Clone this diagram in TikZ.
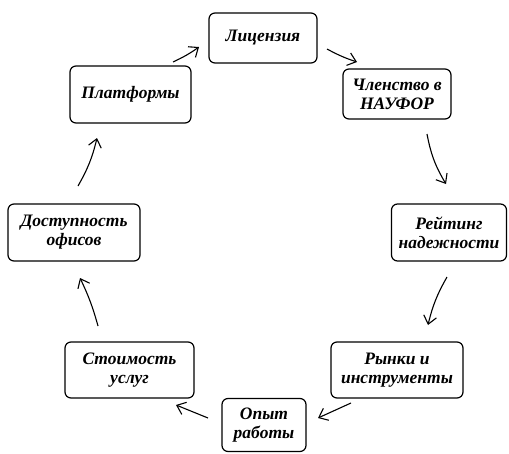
\documentclass[tikz,border=0pt]{standalone}
\usepackage{fontspec}
\setmainfont{Liberation Serif}
\usetikzlibrary{arrows.meta}
\tikzset{
  box/.style={draw, line width=1.2pt, rounded corners=6pt, align=center, inner sep=1pt,
    font=\fontsize{17.5}{19}\selectfont\bfseries\itshape},
  arr/.style={line width=1.1pt, -{Straight Barb[length=8pt,width=13pt,line width=1.1pt]}}
}
\begin{document}
\begin{tikzpicture}[x=1pt,y=-1pt]
\useasboundingbox (0,0) rectangle (509,453);
\node[box, minimum width=108pt, minimum height=50pt] (lic) at (263,38) {Лицензия};
\node[box, minimum width=108pt, minimum height=50pt] (chl) at (397,94) {Членство в\\НАУФОР};
\node[box, minimum width=115pt, minimum height=57pt] (rei) at (449,232.5) {Рейтинг\\надежности};
\node[box, minimum width=132pt, minimum height=56pt] (ryn) at (397,370) {Рынки и\\инструменты};
\node[box, minimum width=84pt, minimum height=53pt] (opy) at (264,425) {Опыт\\работы};
\node[box, minimum width=129pt, minimum height=56pt] (sto) at (129.5,370) {Стоимость\\услуг};
\node[box, minimum width=132pt, minimum height=57pt] (dos) at (74,232.5) {Доступность\\офисов};
\node[box, minimum width=121pt, minimum height=57pt] (pla) at (130.5,94.5) {Платформы};
\coordinate (a1s) at (173,62);  \coordinate (a1e) at (199,47);
\coordinate (a2s) at (327,49);  \coordinate (a2e) at (357,62);
\coordinate (a3s) at (427,134); \coordinate (a3e) at (446,184);
\coordinate (a4s) at (447,277); \coordinate (a4e) at (428,325);
\coordinate (a5s) at (351,403); \coordinate (a5e) at (318,418);
\coordinate (a6s) at (208,418); \coordinate (a6e) at (176,405);
\coordinate (a7s) at (98,326);  \coordinate (a7e) at (80,278);
\coordinate (a8s) at (78,186);  \coordinate (a8e) at (97,138);
\draw[arr] (a1s) to[bend right=5] (a1e);
\draw[arr] (a2s) to[bend right=5] (a2e);
\draw[arr] (a3s) to[bend right=10] (a3e);
\draw[arr] (a4s) to[bend right=8] (a4e);
\draw[arr] (a5s) to (a5e);
\draw[arr] (a6s) to (a6e);
\draw[arr] (a7s) to[bend right=5] (a7e);
\draw[arr] (a8s) to[bend right=8] (a8e);
\end{tikzpicture}
\end{document}
